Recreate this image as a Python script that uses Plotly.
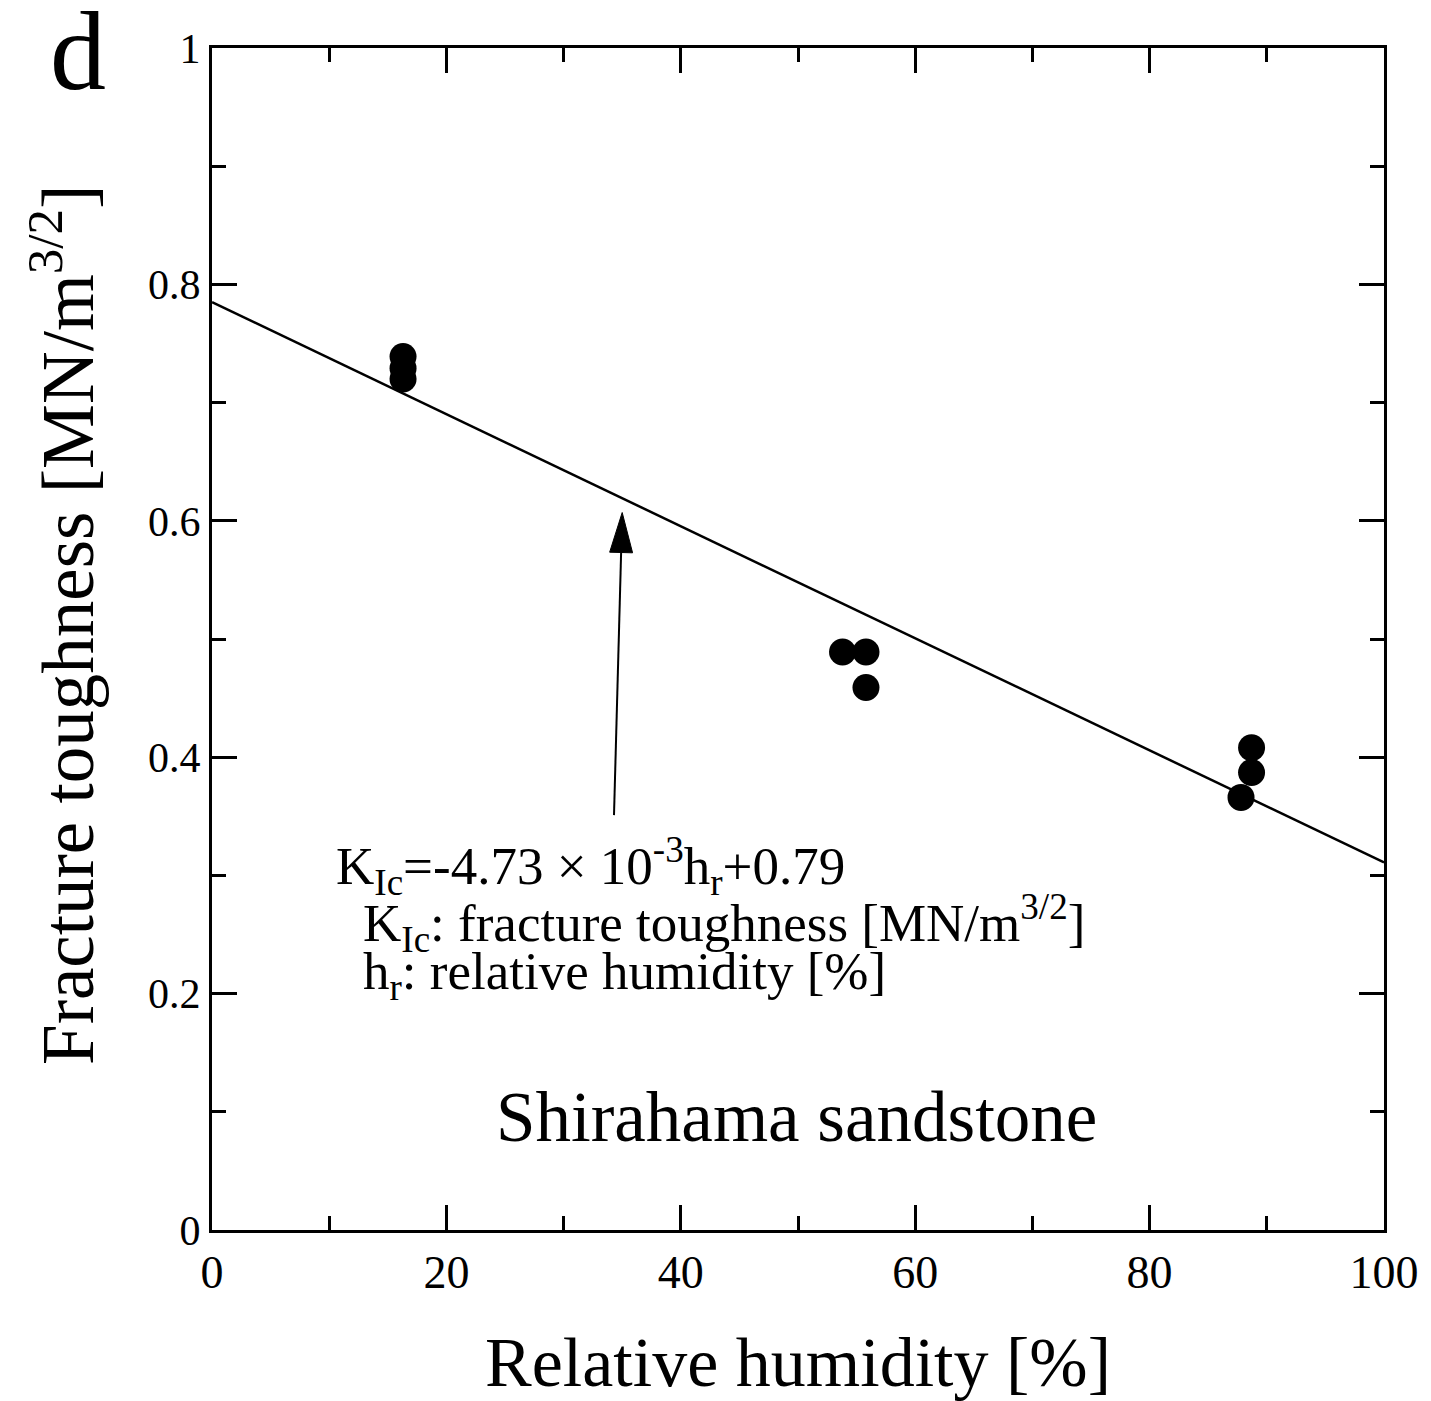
import math
import plotly.graph_objects as go

# ---- data ----
humidity = [16.3, 16.3, 16.3, 53.8, 55.8, 55.8, 88.7, 88.7, 87.8]
toughness = [0.739, 0.729, 0.720, 0.489, 0.489, 0.459, 0.408, 0.387, 0.366]

fit_x = [0, 100]
fit_y = [0.785, 0.311]

arrow_tip = (35.0, 0.607)
arrow_tail = (34.3, 0.351)

x_ticks = [0, 20, 40, 60, 80, 100]
y_ticks = [0, 0.2, 0.4, 0.6, 0.8, 1]
y_tick_text = ["0", "0.2", "0.4", "0.6", "0.8", "1"]

FONT = "Liberation Serif, Times New Roman, serif"

# figure geometry
W, H = 1431, 1401
ML, MR, MT, MB = 212, 43, 48, 171
X_RANGE, Y_RANGE = [0, 100], [0, 1]
sx = (W - ML - MR) / (X_RANGE[1] - X_RANGE[0])   # px per x unit
sy = (H - MT - MB) / (Y_RANGE[1] - Y_RANGE[0])   # px per y unit

# arrowhead (slender filled triangle) built from the tip/tail in pixel space
HEAD_LEN, HEAD_HALF_W = 40, 11.5
tx, ty = arrow_tip[0] * sx, arrow_tip[1] * sy
ax_, ay_ = arrow_tail[0] * sx, arrow_tail[1] * sy
L = math.hypot(tx - ax_, ty - ay_)
dx, dy = (tx - ax_) / L, (ty - ay_) / L
nx, ny = -dy, dx
bx, by = tx - HEAD_LEN * dx, ty - HEAD_LEN * dy
c1 = ((bx + HEAD_HALF_W * nx) / sx, (by + HEAD_HALF_W * ny) / sy)
c2 = ((bx - HEAD_HALF_W * nx) / sx, (by - HEAD_HALF_W * ny) / sy)
base_mid = (bx / sx, by / sy)
head_path = (f"M {arrow_tip[0]},{arrow_tip[1]} L {c1[0]},{c1[1]} "
             f"L {c2[0]},{c2[1]} Z")

fig = go.Figure()
fig.add_trace(go.Scatter(x=fit_x, y=fit_y, mode="lines",
                         line=dict(color="black", width=2.5), showlegend=False))
fig.add_trace(go.Scatter(x=humidity, y=toughness, mode="markers",
                         marker=dict(color="black", size=27), showlegend=False))

axis_common = dict(
    showline=True, linecolor="black", linewidth=3, mirror="ticks",
    ticks="inside", ticklen=25, tickwidth=2.5, tickcolor="black",
    showgrid=False, zeroline=False,
)

fig.update_xaxes(
    range=X_RANGE, tickvals=x_ticks, ticktext=[str(v) for v in x_ticks],
    tickfont=dict(family=FONT, size=46, color="black"),
    minor=dict(ticks="inside", ticklen=14, tickwidth=2.5, tickcolor="black", dtick=10),
    title=dict(text="Relative humidity [%]", font=dict(family=FONT, size=70, color="black"), standoff=40),
    **axis_common,
)
fig.update_yaxes(
    range=Y_RANGE, tickvals=y_ticks, ticktext=y_tick_text,
    tickfont=dict(family=FONT, size=42, color="black"),
    minor=dict(ticks="inside", ticklen=14, tickwidth=2.5, tickcolor="black", dtick=0.1),
    **axis_common,
)

shapes = [
    dict(type="line", xref="x", yref="y", x0=arrow_tail[0], y0=arrow_tail[1],
         x1=base_mid[0], y1=base_mid[1], line=dict(color="black", width=2)),
    dict(type="path", xref="x", yref="y", path=head_path,
         fillcolor="black", line=dict(color="black", width=1)),
]

annotations = [
    dict(x=10.4, y=0.275, xref="x", yref="y", xanchor="left", yanchor="bottom",
         text="K<sub>Ic</sub>=-4.73 × 10<sup>-3</sup>h<sub>r</sub>+0.79",
         showarrow=False, font=dict(family=FONT, size=53, color="black")),
    dict(x=12.75, y=0.227, xref="x", yref="y", xanchor="left", yanchor="bottom",
         text="K<sub>Ic</sub>: fracture toughness [MN/m<sup>3/2</sup>]",
         showarrow=False, font=dict(family=FONT, size=53, color="black")),
    dict(x=12.75, y=0.1865, xref="x", yref="y", xanchor="left", yanchor="bottom",
         text="h<sub>r</sub>: relative humidity [%]",
         showarrow=False, font=dict(family=FONT, size=53, color="black")),
    dict(x=49.9, y=0.061, xref="x", yref="y", xanchor="center", yanchor="bottom",
         text="Shirahama sandstone", showarrow=False,
         font=dict(family=FONT, size=71, color="black")),
    dict(x=-0.127, y=0.512, xref="paper", yref="paper", xanchor="center", yanchor="middle",
         text="Fracture toughness [MN/m<sup>3/2</sup>]", textangle=-90, showarrow=False,
         font=dict(family=FONT, size=73, color="black")),
    dict(x=-0.14, y=0.943, xref="paper", yref="paper", xanchor="left", yanchor="bottom",
         text="d", showarrow=False, font=dict(family=FONT, size=112, color="black")),
]

fig.update_layout(
    width=W, height=H,
    margin=dict(l=ML, r=MR, t=MT, b=MB),
    paper_bgcolor="white", plot_bgcolor="white",
    shapes=shapes,
    annotations=annotations,
    font=dict(family=FONT, color="black"),
)

fig.write_html("out.html")
